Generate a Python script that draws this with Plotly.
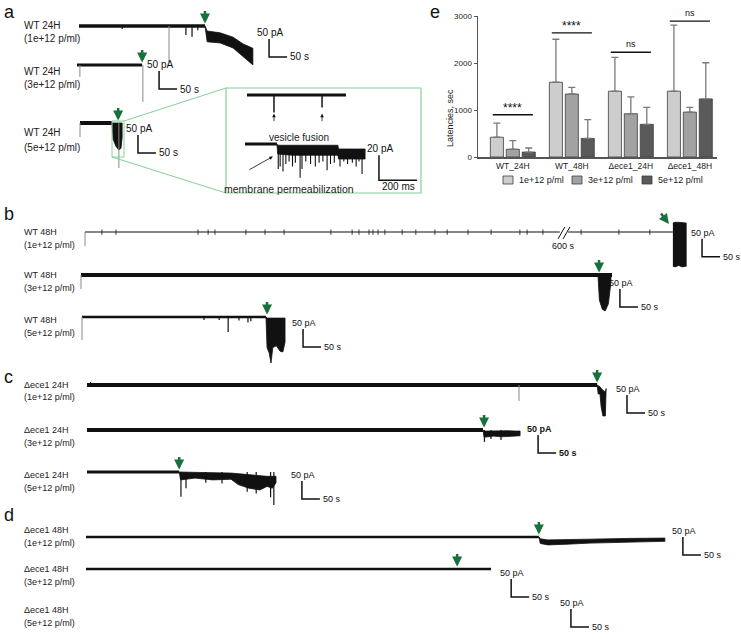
import plotly.graph_objects as go

W, H = 741, 639
FONT = "Liberation Sans"
GREEN = "#18703c"
BLACK = "#111111"
GREY = "#8a8a8a"
LIGHTGREEN = "#86d096"

# ================= panel e : latency bar chart =================
groups = ["WT_24H", "WT_48H", "Δece1_24H", "Δece1_48H"]
dose_labels = ["1e+12 p/ml", "3e+12 p/ml", "5e+12 p/ml"]
lat_1e12 = [420, 1590, 1400, 1400]
lat_3e12 = [165, 1340, 920, 955]
lat_5e12 = [105, 395, 695, 1235]
err_1e12 = [300, 915, 720, 1405]
err_3e12 = [185, 140, 360, 100]
err_5e12 = [87, 400, 360, 770]
sig_text = ["****", "****", "ns", "ns"]
sig_y = [900, 2640, 2230, 2890]
y_ticks = [0, 1000, 2000, 3000]
dose_colors = ["#cdcdcd", "#a2a2a2", "#5a5a5a"]

# ================= panels a-d : current traces =================
# (time in s from start of recording, current in pA relative to baseline)
row_strain = ["WT 24H"] * 3 + ["WT 48H"] * 3 + ["Δece1 24H"] * 3 + ["Δece1 48H"] * 3
row_dose = ["(1e+12 p/ml)", "(3e+12 p/ml)", "(5e+12 p/ml)"] * 4
base_end_s = [350, 181, 89, 1633, 1475, 511, 1417, 1100, 256, 1258, 1125, None]
arrow_s = [350, 181, 106, None, 1439, 514, 1417, 1103, 256, 1258, 1031, None]
resp_t = [
    [350, 356, 392, 428, 456, 483],
    [],
    [89, 92, 100, 108, 114, 117],
    [1633, 1639, 1649, 1659, 1670],
    [1436, 1440, 1448, 1456, 1465, 1472],
    [511, 514, 520, 525, 530, 540, 550, 558, 564],
    [1417, 1420, 1425, 1428, 1433, 1440, 1442],
    [1100, 1103, 1110, 1130, 1150, 1170, 1190, 1203],
    [256, 260, 300, 350, 400, 420, 450, 480, 500, 515, 525],
    [1258, 1262, 1283, 1310, 1336, 1400, 1500, 1608],
    [],
    [],
]
resp_hi = [
    [0, -14, -19, -31, -50, -62],
    [],
    [0, 0, 0, 0, 0, 0],
    [25, 27, 27, 27, 25],
    [0, 0, 0, 0, 0, 0],
    [0, -3, -3, -3, -3, -3, -3, -3, -3],
    [0, -2, -5, -10, -15, -20, -10],
    [0, -3, -3, -2, -3, -2, -3, -3],
    [0, 0, 0, -2, -3, -5, -8, -10, -12, -12, -12],
    [0, -5, -8, -8, -8, -6, -4, -3],
    [],
    [],
]
resp_lo = [
    [0, -44, -47, -61, -86, -108],
    [],
    [0, -45, -65, -75, -70, -40],
    [-95, -97, -93, -97, -95],
    [0, -70, -95, -100, -80, -20],
    [0, -85, -100, -128, -85, -80, -95, -97, -70],
    [0, -25, -25, -60, -86, -86, -20],
    [0, -20, -18, -17, -19, -18, -17, -16],
    [0, -22, -17, -22, -20, -35, -45, -50, -40, -45, -30],
    [0, -18, -22, -22, -20, -17, -14, -12],
    [],
    [],
]
dip_t = [[120, 297, 314, 330], [], [], [], [], [339, 381, 406, 436, 461, 469], [10], [1104, 1122, 1150],
         [261, 275, 330, 375, 445, 470, 510, 519], [], [], []]
dip_pA = [[-8, -25, -30, -12], [], [], [], [], [-8, -8, -42, -10, -15, -12], [8], [-33, -25, -28],
          [-69, -45, -30, -32, -55, -60, -70, -92], [], [], []]
trans_t = [[250], [8, 183], [0, 108], [0], [0], [0], [1200], [], [], [], [], []]
trans_pA = [[-100], [-33, -103], [-39, -125], [-39], [-39], [-64], [-44], [], [], [], [], []]
sb_t = [528, 228, 161, 1714, 1497, 614, 1500, 1253, 597, 1658, 1181, 1347]
sb_pA = [-86, -67, -83, -69, -89, -83, -78, -64, -75, -50, -78, -42]
sb_bold = [False] * 7 + [True] + [False] * 4
b1_break_s = [1319, 1342]
b1_tick_s = [47, 86, 314, 342, 361, 447, 500, 553, 683, 742, 761, 789, 800, 814, 833, 881, 919,
             972, 1006, 1064, 1128, 1208, 1228, 1272, 1378, 1483, 1569]
b1_arrow_s, b1_arrow_pA = 1622, 22

# inset (time in ms, current in pA)
fus_len_ms = 521
fus_spk_t = [142, 395]
fus_spk_pA = [-14, -10]
perm_base_end = 168
perm_t = [168, 172, 250, 330, 400, 489, 492, 560, 632]
perm_hi = [0, -1, -1, -1, -1, -1, -4, -4, -4]
perm_lo = [0, -8, -9, -9, -9, -9, -12, -12, -12]
perm_spk_t = [175, 185, 200, 215, 232, 250, 265, 290, 300, 320, 345, 370, 390, 410, 432, 450, 470,
              500, 520, 540, 565, 585, 600, 616]
perm_spk_pA = [-20, -18, -22, -16, -14, -18, -15, -27, -20, -14, -16, -18, -15, -14, -21, -16, -15,
               -18, -14, -16, -15, -18, -14, -24]

# ---------------- layout positions (pixels) ----------------
row_x0 = [79, 77, 80, 85, 81, 82, 87, 87, 87, 86, 86, 86]
row_y0 = [26, 65, 123, 232, 275, 317, 385, 430, 472, 537, 569, 612]
row_lw = [3.5, 3, 4, 1.2, 4, 2.5, 4, 4, 3, 2.5, 2.5, 0]
row_label_y = [25, 71, 132, 232, 275, 320, 385, 430, 475, 530, 569, 610]
row_label_dy = [14, 13, 15, 13, 13, 13, 12, 13, 13, 13, 13, 13]
row_font = [10, 10, 10, 9, 9, 9, 9, 9, 9, 9, 9, 9]
SCALE = 0.36  # px per s and px per pA in the trace panels
panel_letters = ["a", "b", "c", "d", "e"]
panel_letter_xy = [(2, 0), (2, 214), (2, 377), (2, 515), (428, 0)]
legend_x = [508, 577, 647]
legend_y = 180


def P(x):
    return x / W


def Q(y):
    return 1 - y / H


fig = go.Figure()
annos = []
shapes = []

# ---------------- bar chart ----------------
for vals, errs, name, col in zip([lat_1e12, lat_3e12, lat_5e12], [err_1e12, err_3e12, err_5e12],
                                 dose_labels, dose_colors):
    fig.add_trace(go.Bar(
        x=groups, y=vals, name=name, xaxis="x", yaxis="y", showlegend=False,
        marker=dict(color=col, line=dict(color="#3c3c3c", width=0.8)),
        error_y=dict(type="data", symmetric=False, array=errs, arrayminus=[0] * len(errs),
                     color="#7a7a7a", thickness=1.3, width=3.5),
        hoverinfo="skip"))

for i, (txt, yv) in enumerate(zip(sig_text, sig_y)):
    shapes.append(dict(type="line", xref="x", yref="y", x0=i - 0.34, x1=i + 0.34, y0=yv, y1=yv,
                       line=dict(color=BLACK, width=1.4)))
    annos.append(dict(x=i, y=yv, xref="x", yref="y", text=txt, showarrow=False, yanchor="bottom",
                      yshift=-2 if txt.startswith("*") else 1,
                      font=dict(family=FONT, size=12 if txt.startswith("*") else 9, color=BLACK)))

annos.append(dict(x=P(450), y=Q(87), xref="paper", yref="paper", text="Latencies, sec", textangle=-90,
                  showarrow=False, font=dict(family=FONT, size=9, color="#222")))

# legend keys for the dose series
for lx, name, col in zip(legend_x, dose_labels, dose_colors):
    shapes.append(dict(type="rect", xref="paper", yref="paper", x0=P(lx - 5), x1=P(lx + 5),
                       y0=Q(legend_y + 4), y1=Q(legend_y - 4), fillcolor=col,
                       line=dict(color="#3c3c3c", width=0.8)))
    annos.append(dict(x=P(lx + 9), y=Q(legend_y), xref="paper", yref="paper", text=name,
                      showarrow=False, xanchor="left", yanchor="middle",
                      font=dict(family=FONT, size=9, color="#222")))

# ---------------- overlay axes for traces ----------------
axis_n = [1]
layout_axes = {}


def new_axes(x0, y0, sx, sy):
    axis_n[0] += 1
    k = axis_n[0]
    layout_axes[f"xaxis{k}"] = dict(domain=[0, 1], range=[-x0 / sx, (W - x0) / sx], visible=False,
                                    anchor=f"y{k}", fixedrange=True)
    layout_axes[f"yaxis{k}"] = dict(domain=[0, 1], range=[-(H - y0) / sy, y0 / sy], visible=False,
                                    anchor=f"x{k}", fixedrange=True)
    return f"x{k}", f"y{k}"


def line(xa, ya, xs, ys, color=BLACK, width=1.0, fill=None):
    fig.add_trace(go.Scatter(x=xs, y=ys, xaxis=xa, yaxis=ya, mode="lines",
                             line=dict(color=color, width=width), fill=fill,
                             fillcolor=color if fill else None,
                             showlegend=False, hoverinfo="skip"))


def segs(ts, amps, base=0):
    xs, ys = [], []
    for t, a in zip(ts, amps):
        xs += [t, t, None]
        ys += [base, a, None]
    return xs, ys


def scalebar(xa, ya, t, a, dt, da, lab_a, lab_t, size, bold=False, lab_t_below=False):
    line(xa, ya, [t, t, t + dt], [a + da, a, a], width=1.5)
    fw = "bold" if bold else "normal"
    annos.append(dict(x=t, y=a + da, xref=xa, yref=ya, text=lab_a, showarrow=False,
                      yanchor="bottom", xanchor="center", yshift=-1, xshift=1,
                      font=dict(family=FONT, size=size, color=BLACK, weight=fw)))
    if lab_t_below:
        annos.append(dict(x=t + dt / 2, y=a, xref=xa, yref=ya, text=lab_t, showarrow=False,
                          yanchor="top", xanchor="center", xshift=1, yshift=1,
                          font=dict(family=FONT, size=size, color=BLACK, weight=fw)))
    else:
        annos.append(dict(x=t + dt, y=a, xref=xa, yref=ya, text=lab_t, showarrow=False,
                          yanchor="middle", xanchor="left", xshift=1,
                          font=dict(family=FONT, size=size, color=BLACK, weight=fw)))


for i in range(len(row_strain)):
    xa, ya = new_axes(row_x0[i], row_y0[i], SCALE, SCALE)
    # baseline recording
    if base_end_s[i] is not None:
        if i == 3:
            line(xa, ya, [0, b1_break_s[0], None, b1_break_s[1], base_end_s[i]], [0, 0, None, 0, 0],
                 width=row_lw[i])
            bx, by = segs(b1_tick_s, [-8] * len(b1_tick_s), base=7)
            line(xa, ya, bx, by, width=0.8)
            # break marks
            for off in (0, 14):
                line(xa, ya, [b1_break_s[0] - 5 + off, b1_break_s[0] + 14 + off], [-19, 14], width=1)
            annos.append(dict(x=(b1_break_s[0] + b1_break_s[1]) / 2, y=-40, xref=xa, yref=ya,
                              text="600 s", showarrow=False,
                              font=dict(family=FONT, size=row_font[i], color=BLACK)))
            annos.append(dict(x=b1_arrow_s, y=b1_arrow_pA, xref=xa, yref=ya, text="", showarrow=True,
                              ax=-9, ay=-12, arrowhead=2, arrowsize=0.8, arrowwidth=2.5,
                              arrowcolor=GREEN, standoff=0))
        else:
            line(xa, ya, [0, base_end_s[i]], [0, 0], width=row_lw[i])
    # response after toxin
    if resp_t[i]:
        ts = resp_t[i]
        line(xa, ya, ts + ts[::-1], resp_hi[i] + resp_lo[i][::-1], width=0.8, fill="toself")
    if dip_t[i]:
        dx, dy = segs(dip_t[i], dip_pA[i])
        line(xa, ya, dx, dy, width=1.2)
    if trans_t[i]:
        gx, gy = segs(trans_t[i], trans_pA[i])
        line(xa, ya, gx, gy, color=GREY, width=1)
    if arrow_s[i] is not None:
        annos.append(dict(x=arrow_s[i], y=7, xref=xa, yref=ya, text="", showarrow=True,
                          ax=0, ay=-14, arrowhead=2, arrowsize=0.8, arrowwidth=2.5,
                          arrowcolor=GREEN, standoff=0))
    scalebar(xa, ya, sb_t[i], sb_pA[i], 50, 50, "50 pA", "50 s", row_font[i], bold=sb_bold[i])
    # row labels
    annos.append(dict(x=P(22), y=Q(row_label_y[i]), xref="paper", yref="paper", text=row_strain[i],
                      showarrow=False, xanchor="left", yanchor="middle",
                      font=dict(family=FONT, size=row_font[i], color="#222")))
    annos.append(dict(x=P(22), y=Q(row_label_y[i] + row_label_dy[i]), xref="paper", yref="paper",
                      text=row_dose[i], showarrow=False, xanchor="left", yanchor="middle",
                      font=dict(family=FONT, size=row_font[i], color="#222")))

# ---------------- inset ----------------
IX, IY = 0.19, 1.25  # px per ms, px per pA
xa, ya = new_axes(247, 95, IX, IY)
line(xa, ya, [0, fus_len_ms], [0, 0], width=3)
fx, fy = segs(fus_spk_t, fus_spk_pA)
line(xa, ya, fx, fy, width=1.5)
for t in fus_spk_t:
    annos.append(dict(x=t, y=-15, xref=xa, yref=ya, text="", showarrow=True, ax=0, ay=9,
                      arrowhead=2, arrowsize=0.9, arrowwidth=0.8, arrowcolor=BLACK, standoff=0))
xa, ya = new_axes(245, 144, IX, IY)
line(xa, ya, [0, perm_base_end], [0, 0], width=3)
line(xa, ya, perm_t + perm_t[::-1], perm_hi + perm_lo[::-1], width=0.8, fill="toself")
px_, py_ = segs(perm_spk_t, perm_spk_pA, base=-6)
line(xa, ya, px_, py_, width=1.1)
annos.append(dict(x=147, y=-10, xref=xa, yref=ya, text="", showarrow=True, ax=-25, ay=14,
                  arrowhead=2, arrowsize=0.9, arrowwidth=0.8, arrowcolor=BLACK, standoff=0))
scalebar(xa, ya, 705, -29, 200, 20, "20 pA", "200 ms", 10, lab_t_below=True)
annos.append(dict(x=P(299), y=Q(130), xref="paper", yref="paper", text="vesicle fusion",
                  showarrow=False, font=dict(family=FONT, size=10, color="#222")))
annos.append(dict(x=P(289), y=Q(181), xref="paper", yref="paper", text="membrane permeabilization",
                  showarrow=False, font=dict(family=FONT, size=10.5, color="#222")))

# zoom box and connectors
shapes.append(dict(type="rect", xref="paper", yref="paper", x0=P(112), x1=P(124), y0=Q(157), y1=Q(121),
                   line=dict(color=LIGHTGREEN, width=1)))
shapes.append(dict(type="rect", xref="paper", yref="paper", x0=P(226), x1=P(421), y0=Q(193), y1=Q(88),
                   line=dict(color=LIGHTGREEN, width=1.2)))
shapes.append(dict(type="line", xref="paper", yref="paper", x0=P(124), y0=Q(121), x1=P(226), y1=Q(88),
                   line=dict(color=LIGHTGREEN, width=1)))
shapes.append(dict(type="line", xref="paper", yref="paper", x0=P(112), y0=Q(157), x1=P(226), y1=Q(193),
                   line=dict(color=LIGHTGREEN, width=1)))

for letter, (lx, ly) in zip(panel_letters, panel_letter_xy):
    annos.append(dict(x=P(lx), y=Q(ly), xref="paper", yref="paper", text=letter, showarrow=False,
                      xanchor="left", yanchor="top" if ly == 0 else "middle",
                      font=dict(family=FONT, size=18, color=BLACK)))

fig.update_layout(
    width=W, height=H, margin=dict(l=0, r=0, t=0, b=0, autoexpand=False),
    paper_bgcolor="white", plot_bgcolor="rgba(0,0,0,0)",
    barmode="group", bargap=0.19, bargroupgap=0.18, showlegend=False,
    xaxis=dict(domain=[P(478), P(717)], range=[-0.59, 3.46], type="category", showline=True,
               linecolor="#555", linewidth=2, ticks="", showgrid=False, fixedrange=True,
               tickfont=dict(family=FONT, size=8.5, color="#222"), anchor="y"),
    yaxis=dict(domain=[Q(157), Q(16)], range=[0, 3000], tickvals=y_ticks, showline=True,
               linecolor="#555", linewidth=1.5, ticks="outside", ticklen=3, tickcolor="#555",
               showgrid=False, zeroline=False, fixedrange=True,
               tickfont=dict(family=FONT, size=8, color="#222"), anchor="x"),
    annotations=annos, shapes=shapes,
    **layout_axes,
)

fig.write_html("out.html", config={"displayModeBar": False, "staticPlot": True},
               post_script="document.body.style.margin='0px';")
